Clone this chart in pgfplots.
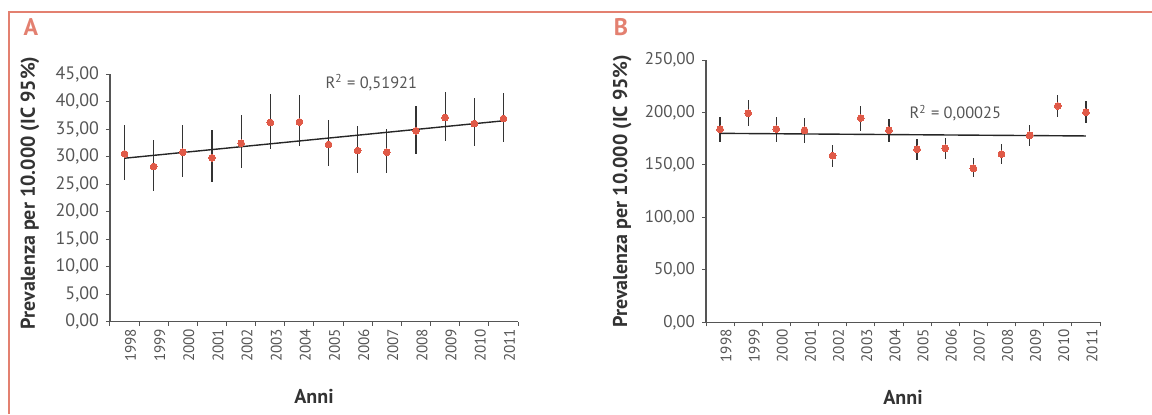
\documentclass[border=0pt]{standalone}
\usepackage{pgfplots}
\pgfplotsset{compat=1.18}
\usepackage{pgfplotstable}
\usepackage{fontspec}
\setmainfont{PT Sans}
\definecolor{frame}{HTML}{E38070}
\definecolor{pt}{HTML}{E05A48}
\definecolor{tk}{HTML}{555555}
\definecolor{lb}{HTML}{333333}

\pgfplotstableread{
x y ep em
0 30.5 5.3 4.8
1 28.2 4.9 4.4
2 30.8 5.0 4.6
3 29.8 5.1 4.5
4 32.4 5.2 4.5
5 36.2 5.2 4.9
6 36.3 4.9 4.4
7 32.2 4.4 4.0
8 31.1 4.5 4.0
9 30.8 4.3 3.8
10 34.7 4.4 4.2
11 37.1 4.6 4.3
12 36.0 4.6 4.0
13 36.9 4.6 4.2
}\dataA

\pgfplotstableread{
x y ep em
0 183.9 12.1 11.7
1 199.2 12.7 12.1
2 184.2 11.8 12.0
3 183.0 11.4 12.4
4 158.8 10.2 11.1
5 194.7 11.5 12.0
6 183.0 10.5 10.8
7 164.9 9.5 10.5
8 165.8 9.5 9.8
9 146.8 9.5 8.6
10 160.4 9.2 9.5
11 178.2 9.5 10.2
12 206.2 10.4 10.2
13 200.1 10.8 10.5
}\dataB

\pgfplotsset{
  myax/.style={
    scale only axis,
    anchor=south west,
    axis lines=left,
    axis line style={-, draw=tk, line width=0.6pt},
    xmin=-0.5, xmax=13.5, ymin=0,
    tick align=outside,
    major tick length=2pt,
    tick style={draw=tk, line width=0.5pt},
    xtick={-0.5,0.5,...,13.5},
    xticklabels={},
    extra x ticks={0,...,13},
    extra x tick labels={1998,1999,2000,2001,2002,2003,2004,2005,2006,2007,2008,2009,2010,2011},
    extra x tick style={major tick length=0pt, xticklabel style={font=\fontsize{7.6}{8}\selectfont, text=tk, rotate=90, anchor=east, yshift=-3pt}},
    /pgf/number format/assume math mode=true,
    /pgf/number format/fixed,
    /pgf/number format/fixed zerofill,
    /pgf/number format/precision=2,
    /pgf/number format/use comma,
    /pgf/number format/1000 sep={},
    yticklabel style={text=tk},
    xlabel={Anni},
    ylabel={Prevalenza per 10.000 (IC 95\%)},
    label style={font=\fontsize{10}{11}\selectfont\bfseries, text=lb},
    clip=false,
  },
  ebar/.style={draw=none, mark=none, forget plot,
    error bars/.cd, y dir=both, y explicit,
    error bar style={draw=lb, line width=0.6pt}, error mark=none},
  pts/.style={only marks, color=pt, mark=*, mark size=1.7pt, mark options={fill=pt, draw=pt, line width=0pt}},
}

\begin{document}
\begin{tikzpicture}
\useasboundingbox (0pt,0pt) rectangle (576pt,207pt);
\draw[frame, line width=0.8pt] (4.5pt,0pt) -- (4.5pt,201pt) -- (576pt,201pt);
\node[text=frame, font=\fontsize{12}{13}\selectfont\bfseries] at (15.5pt,193.5pt) {A};
\node[text=frame, font=\fontsize{12}{13}\selectfont\bfseries] at (310.5pt,193.5pt) {B};

\begin{axis}[myax,
  at={(55pt,46.15pt)}, width=204pt, height=123.85pt,
  ymax=45, ytick={0,5,...,45},
  yticklabel style={font=\fontsize{9}{10}\selectfont},
  ylabel style={at={(axis description cs:-0.196,0.52)}, anchor=center, rotate=0},
  xlabel style={at={(axis description cs:0.5,-0.303)}, anchor=center},
]
\addplot[ebar] table[x=x, y=y, y error plus=ep, y error minus=em]{\dataA};
\addplot[black!85, line width=0.7pt, mark=none] coordinates {(0,29.7) (13,36.5)};
\addplot[pts] table[x=x, y=y]{\dataA};
\node[text=tk, font=\fontsize{8.2}{9}\selectfont] at (axis cs:8.47,43.4) {R\textsuperscript{2} = 0,51921};
\end{axis}

\begin{axis}[myax,
  at={(353pt,45.85pt)}, width=197pt, height=131.15pt,
  ymax=250, ytick={0,50,...,250},
  yticklabel style={font=\fontsize{8.5}{9}\selectfont},
  ylabel style={at={(axis description cs:-0.213,0.5)}, anchor=center, rotate=0},
  xlabel style={at={(axis description cs:0.5,-0.285)}, anchor=center},
]
\addplot[ebar] table[x=x, y=y, y error plus=ep, y error minus=em]{\dataB};
\addplot[black!85, line width=0.7pt, mark=none] coordinates {(0,180.1) (13,177.6)};
\addplot[pts] table[x=x, y=y]{\dataB};
\node[text=tk, font=\fontsize{8.2}{9}\selectfont] at (axis cs:8.36,199.5) {R\textsuperscript{2} = 0,00025};
\end{axis}
\end{tikzpicture}
\end{document}
